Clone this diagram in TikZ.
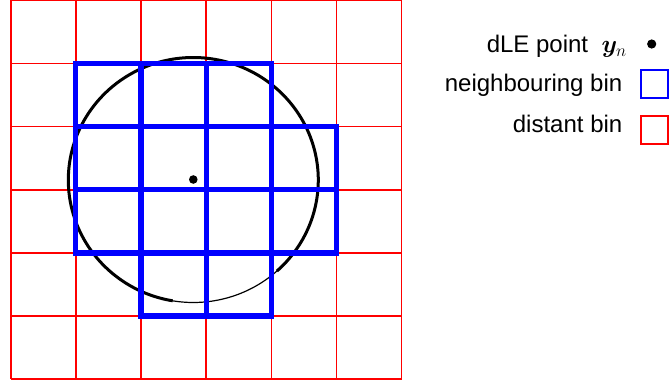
\documentclass[tikz,border=0pt]{standalone}
\usepackage{bm}
\usepackage{fontspec}
\setmainfont{Liberation Sans}
\begin{document}
\begin{tikzpicture}[x=1pt,y=-1pt,
  redgrid/.style={draw=red, line width=1.6pt},
  bluebin/.style={draw=blue, line width=5.2pt},
  circthick/.style={draw=black, line width=3pt},
  circthin/.style={draw=black, line width=1.2pt},
  legtext/.style={anchor=base east, inner sep=0pt, font=\fontsize{24}{28}\selectfont},
  legred/.style={draw=red, line width=2pt},
  legblue/.style={draw=blue, line width=2pt}]
\useasboundingbox (0,0) rectangle (669,382);
% red grid
\foreach \i in {0,...,6} {
  \draw[redgrid] ({10.7+\i*65.15},0.5) -- ({10.7+\i*65.15},379.1);
  \draw[redgrid] (10.7,{0.5+\i*63.1}) -- (401.6,{0.5+\i*63.1});
}
% circle
\draw[circthick] plot[domain=99.5:408, samples=150, smooth] ({193.3+125*cos(\x)},{180+122.5*sin(\x)});
\draw[circthin] plot[domain=47:100.5, samples=40, smooth] ({193.3+125*cos(\x)},{180+122.5*sin(\x)});
% blue bins: (col,row) indices
\foreach \c/\r in {1/1,2/1,3/1, 1/2,2/2,3/2,4/2, 1/3,2/3,3/3,4/3, 2/4,3/4} {
  \draw[bluebin] ({10.7+\c*65.15},{0.5+\r*63.1}) rectangle ({10.7+(\c+1)*65.15},{0.5+(\r+1)*63.1});
}
% point
\fill[black] (193.3,179.5) circle[radius=4.3];
% legend
\node[legtext] (l1) at (627,53) {dLE point~ $\bm{y}_n$};
\node[legtext] (l2) at (622.5,91.5) {neighbouring bin};
\node[legtext] (l3) at (622.5,133) {distant bin};
\fill[black] (651.7,44) circle[radius=4.6];
\draw[legblue] (640.5,70.5) rectangle (667.5,98);
\draw[legred] (640.5,116.5) rectangle (667.5,144);
\end{tikzpicture}
\end{document}
